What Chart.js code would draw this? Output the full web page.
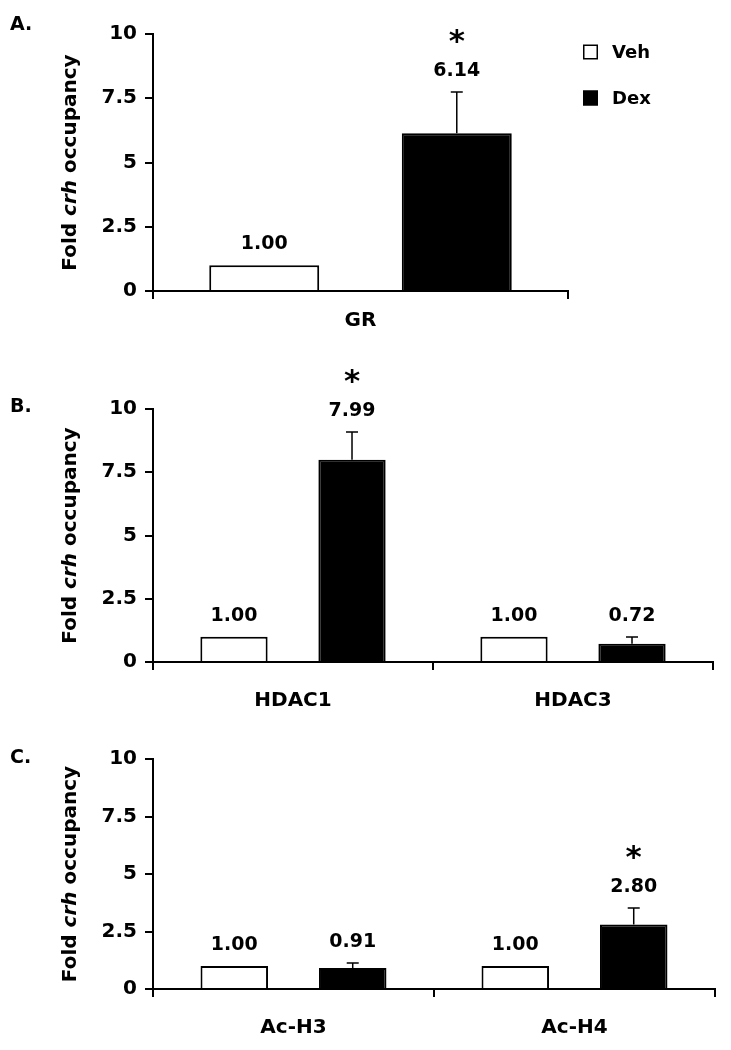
<!DOCTYPE html>
<html><head><meta charset="utf-8">
<script src="https://cdn.jsdelivr.net/npm/chart.js@4.4.1/dist/chart.umd.min.js"></script>
<style>
html,body{margin:0;padding:0;background:#fff;}
body{width:731px;height:1050px;position:relative;overflow:hidden;}
.panel{position:absolute;left:0;width:731px;}
canvas{display:block;}
</style></head><body>
<div class="panel" style="top:0;height:345px"><canvas id="cA"></canvas></div>
<div class="panel" style="top:345px;height:375px"><canvas id="cB"></canvas></div>
<div class="panel" style="top:720px;height:330px"><canvas id="cC"></canvas></div>
<script>
// ---- data ----
const seriesNames = ['Veh', 'Dex'];

const catsA = ['GR'];
const vehA = [1.00];
const dexA = [6.14];
const dexErrA = [1.60];
const sigA = [true];

const catsB = ['HDAC1', 'HDAC3'];
const vehB = [1.00, 1.00];
const dexB = [7.99, 0.72];
const dexErrB = [1.10, 0.27];
const sigB = [true, false];

const catsC = ['Ac-H3', 'Ac-H4'];
const vehC = [1.00, 1.00];
const dexC = [0.91, 2.80];
const dexErrC = [0.22, 0.72];
const sigC = [false, true];

const yTicks = [0, 2.5, 5, 7.5, 10];
const yTickLabels = ['0', '2.5', '5', '7.5', '10'];
const panelLetters = ['A.', 'B.', 'C.'];
const yTitleParts = ['Fold ', 'crh', ' occupancy'];

// ---- rendering ----
const FAM = '"DejaVu Sans", sans-serif';
Chart.defaults.font.family = FAM;
Chart.defaults.color = '#000';

const annotPlugin = {
  id: 'annot',
  afterDatasetsDraw(chart) {
    const ctx = chart.ctx, y = chart.scales.y;
    const ds = chart.data.datasets;
    ctx.save();
    ds.forEach((d, di) => {
      const meta = chart.getDatasetMeta(di);
      meta.data.forEach((bar, i) => {
        const v = d.data[i];
        const e = (d.errors && d.errors[i]) || 0;
        let topVal = v;
        if (e > 0) {
          const y0 = y.getPixelForValue(v), y1 = y.getPixelForValue(v + e);
          ctx.strokeStyle = '#000'; ctx.lineWidth = 1.5;
          ctx.beginPath();
          ctx.moveTo(bar.x, y0); ctx.lineTo(bar.x, y1);
          ctx.moveTo(bar.x - 6, y1); ctx.lineTo(bar.x + 6, y1);
          ctx.stroke();
          topVal = v + e;
        }
        const ty = y.getPixelForValue(topVal) - 21;
        ctx.fillStyle = '#000';
        ctx.textAlign = 'center'; ctx.textBaseline = 'middle';
        ctx.font = 'bold 19px ' + FAM;
        ctx.fillText(v.toFixed(2), bar.x, ty);
        if (d.sig && d.sig[i]) {
          ctx.font = 'bold 31px ' + FAM;
          ctx.fillText('*', bar.x, ty - 28);
        }
      });
    });
    ctx.restore();
  },
  afterDraw(chart, args, opts) {
    const ctx = chart.ctx, a = chart.chartArea;
    ctx.save();
    // y title with italic gene name
    const fonts = ['bold 20px ' + FAM, 'italic bold 20px ' + FAM, 'bold 20px ' + FAM];
    ctx.translate(71, (a.top + a.bottom) / 2);
    ctx.rotate(-Math.PI / 2);
    let total = 0;
    yTitleParts.forEach((p, k) => { ctx.font = fonts[k]; total += ctx.measureText(p).width; });
    let x = -total / 2;
    ctx.fillStyle = '#000'; ctx.textAlign = 'left'; ctx.textBaseline = 'middle';
    yTitleParts.forEach((p, k) => { ctx.font = fonts[k]; ctx.fillText(p, x, 0); x += ctx.measureText(p).width; });
    ctx.restore();
    // panel letter
    ctx.save();
    ctx.fillStyle = '#000'; ctx.font = 'bold 19px ' + FAM;
    ctx.textAlign = 'left'; ctx.textBaseline = 'alphabetic';
    ctx.fillText(opts.letter, 10, opts.letterY);
    // legend
    if (opts.legend) {
      const ds = chart.data.datasets;
      ds.forEach((d, di) => {
        const cy = 52 + di * 46;
        ctx.fillStyle = d.backgroundColor;
        ctx.fillRect(583, cy - 7.5, 15, 15);
        ctx.strokeStyle = '#000'; ctx.lineWidth = 1.5;
        ctx.strokeRect(583.75, cy - 6.75, 13.5, 13.5);
        ctx.fillStyle = '#000'; ctx.font = 'bold 18px ' + FAM;
        ctx.textAlign = 'left'; ctx.textBaseline = 'middle';
        ctx.fillText(d.label, 612, cy + 1);
      });
    }
    ctx.restore();
  }
};

function makeChart(id, cats, veh, dex, err, sig, cfg) {
  return new Chart(document.getElementById(id), {
    type: 'bar',
    data: {
      labels: cats,
      datasets: [
        { label: seriesNames[0], data: veh, backgroundColor: '#ffffff', borderColor: '#000', borderWidth: 2,
          categoryPercentage: cfg.cat, barPercentage: cfg.bar },
        { label: seriesNames[1], data: dex, errors: err, sig: sig, backgroundColor: '#000000', borderColor: '#000', borderWidth: 2,
          categoryPercentage: cfg.cat, barPercentage: cfg.bar }
      ]
    },
    options: {
      responsive: true, maintainAspectRatio: false, animation: false,
      devicePixelRatio: 1,
      layout: { padding: { left: 0, top: cfg.top, right: cfg.right, bottom: cfg.bottom } },
      plugins: {
        legend: { display: false }, tooltip: { enabled: false },
        annot: { letter: cfg.letter, letterY: cfg.letterY, legend: cfg.legend }
      },
      scales: {
        x: {
          grid: { display: true, drawOnChartArea: false, drawTicks: true, tickLength: 8, color: '#000', lineWidth: 2, offset: true },
          border: { display: true, color: '#000', width: 2 },
          ticks: { color: '#000', font: { size: 20, weight: 'bold', family: FAM }, padding: cfg.xPad, maxRotation: 0 },
          afterFit(s) { s.height = 52; }
        },
        y: {
          min: 0, max: 10,
          afterBuildTicks(s) { s.ticks = yTicks.map(v => ({ value: v })); },
          ticks: { color: '#000', font: { size: 20, weight: 'bold', family: FAM }, padding: 8,
                   callback: (v) => yTickLabels[yTicks.indexOf(v)] },
          grid: { display: true, drawOnChartArea: false, drawTicks: true, tickLength: 8, color: '#000', lineWidth: 2 },
          border: { display: true, color: '#000', width: 2 },
          afterFit(s) { s.width = 153; }
        }
      }
    },
    plugins: [annotPlugin]
  });
}

makeChart('cA', catsA, vehA, dexA, dexErrA, sigA,
  { cat: 0.928, bar: 0.571, top: 34, right: 163, bottom: 2, xPad: 10, letter: panelLetters[0], letterY: 30, legend: true });
makeChart('cB', catsB, vehB, dexB, dexErrB, sigB,
  { cat: 0.843, bar: 0.57, top: 64, right: 18, bottom: 6, xPad: 19, letter: panelLetters[1], letterY: 67, legend: false });
makeChart('cC', catsC, vehC, dexC, dexErrC, sigC,
  { cat: 0.843, bar: 0.57, top: 39, right: 16, bottom: 9, xPad: 19, letter: panelLetters[2], letterY: 43, legend: false });
</script>
</body></html>
